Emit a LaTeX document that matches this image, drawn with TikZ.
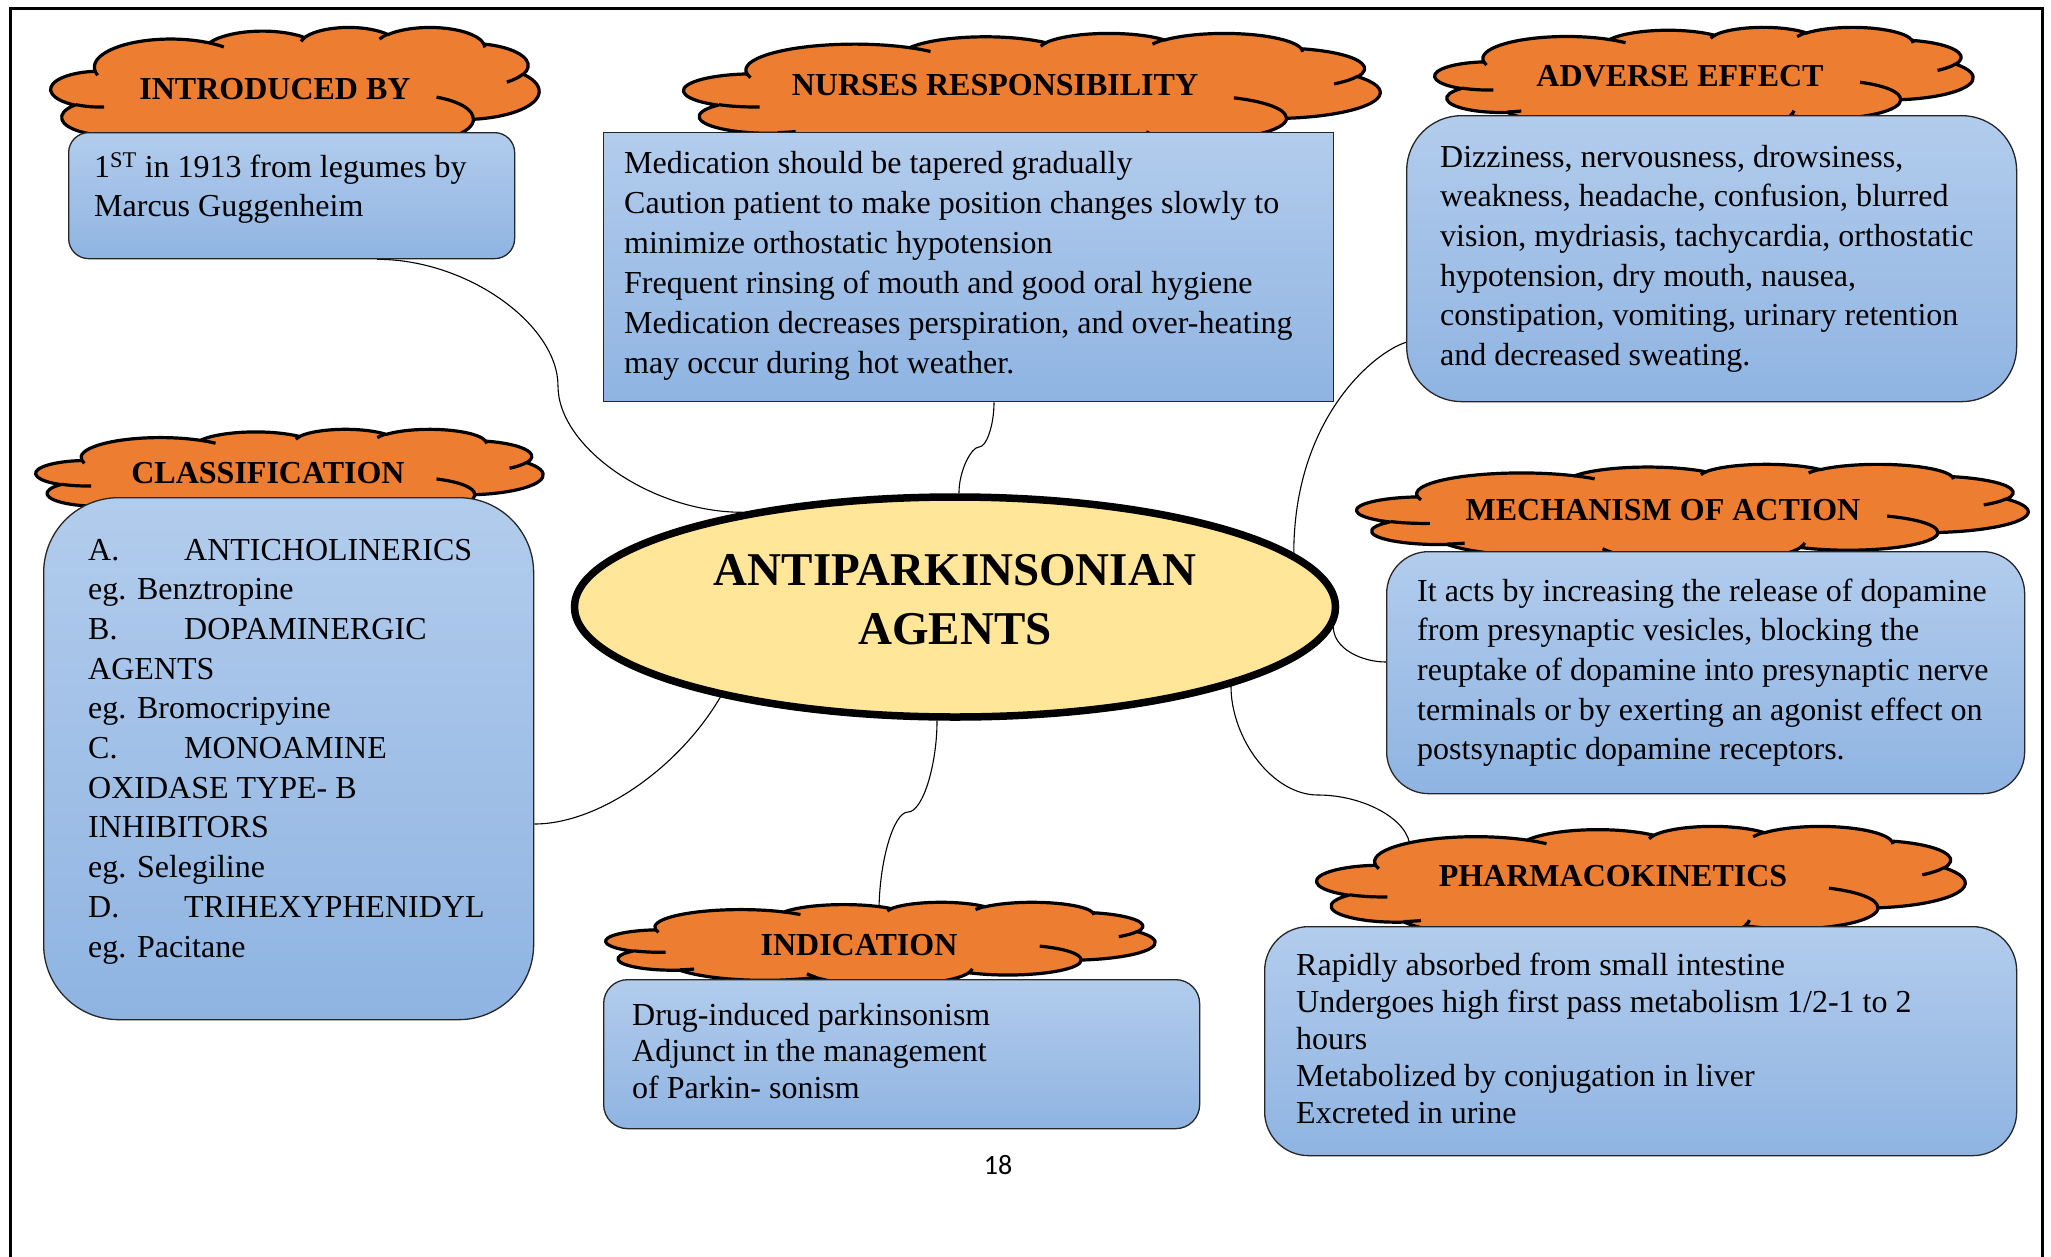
\documentclass[tikz,border=0pt]{standalone}
\usepackage{fontspec}
\setmainfont{Liberation Serif}
\newfontfamily\pagenofont{Carlito}
\usetikzlibrary{shapes.geometric,calc,backgrounds}

\definecolor{cloudorange}{RGB}{237,125,49}
\definecolor{titleyellow}{RGB}{255,230,153}
\definecolor{boxtop}{RGB}{178,204,236}
\definecolor{boxbottom}{RGB}{143,180,226}

% Cloud outline built from elliptical arcs (unit box 100 x 100).
% Each arc is given by its radii and visual start/sweep angles; these are
% turned into the parametric angles used by TikZ's arc operation.
\newcommand\cloudarcdef[5]{%
  \pgfmathsetmacro\cloudtmpa{atan2((#2)*sin(#4),(#3)*cos(#4))}%
  \pgfmathsetmacro\cloudtmpb{atan2((#2)*sin((#4)+(#5)),(#3)*cos((#4)+(#5)))}%
  \pgfmathsetmacro\cloudtmpd{\cloudtmpb-\cloudtmpa}%
  \pgfmathsetmacro\cloudtmpd{ifthenelse(\cloudtmpd<0,\cloudtmpd+360,\cloudtmpd)}%
  \pgfmathsetmacro\cloudtmpe{\cloudtmpa+\cloudtmpd}%
  \expandafter\xdef\csname cls#1\endcsname{\cloudtmpa}%
  \expandafter\xdef\csname cle#1\endcsname{\cloudtmpe}%
}
% outline arcs
\cloudarcdef{A}{15.632}{21.273}{-190.4875}{123.7805}
\cloudarcdef{B}{12.345}{16.822}{-144.1024}{89.9452}
\cloudarcdef{C}{10.104}{13.762}{-145.8079}{99.7230}
\cloudarcdef{D}{11.243}{15.266}{-130.9861}{117.2417}
\cloudarcdef{E}{12.345}{16.836}{-78.7089}{109.0269}
\cloudarcdef{F}{15.683}{21.343}{-46.2673}{130.2690}
\cloudarcdef{G}{13.391}{18.211}{0.6250}{114.0333}
\cloudarcdef{H}{15.630}{21.331}{22.4516}{115.1726}
\cloudarcdef{I}{17.870}{24.405}{66.2426}{75.7110}
\cloudarcdef{J}{10.093}{13.699}{-274.9421}{146.7356}
\cloudarcdef{K}{10.058}{13.762}{-246.8285}{152.5189}
% inner crease arcs
\cloudarcdef{ca}{10.058}{13.762}{86.742}{26.4295}
\cloudarcdef{cb}{10.093}{13.699}{73.6105}{11.4475}
\cloudarcdef{cc}{15.630}{21.331}{137.6242}{14.0811}
\cloudarcdef{cd}{15.630}{21.331}{6.4533}{15.9984}
\cloudarcdef{ce}{13.391}{18.211}{-70.2924}{70.9174}
\cloudarcdef{cf}{12.345}{16.836}{30.3180}{27.7515}
\cloudarcdef{cg}{11.243}{15.266}{-13.7443}{14.8589}
\cloudarcdef{ch}{11.243}{15.266}{-149.1815}{18.1954}
\cloudarcdef{ci}{10.104}{13.762}{-163.4943}{17.6864}
\cloudarcdef{cj}{15.632}{21.273}{-66.7070}{12.3194}
\cloudarcdef{ck}{15.632}{21.273}{157.6544}{11.8582}

\newcommand\cloudoutline{(9.028,33.264)
  arc(\clsA:\cleA:15.632 and 21.273)
  arc(\clsB:\cleB:12.345 and 16.822)
  arc(\clsC:\cleC:10.104 and 13.762)
  arc(\clsD:\cleD:11.243 and 15.266)
  arc(\clsE:\cleE:12.345 and 16.836)
  arc(\clsF:\cleF:15.683 and 21.343)
  arc(\clsG:\cleG:13.391 and 18.211)
  arc(\clsH:\cleH:15.630 and 21.331)
  arc(\clsI:\cleI:17.870 and 24.405)
  arc(\clsJ:\cleJ:10.093 and 13.699)
  arc(\clsK:\cleK:10.058 and 13.762) -- cycle}

\newcommand\cloudcreases{(10.863,60.595) arc(\clsca:\cleca:10.058 and 13.762)
  (16.037,80.785) arc(\clscb:\clecb:10.093 and 13.699)
  (38.144,90.486) arc(\clscc:\clecc:15.630 and 21.331)
  (66.729,80.442) arc(\clscd:\clecd:15.630 and 21.331)
  (79.002,53.134) arc(\clsce:\clece:13.391 and 18.211)
  (96.755,35.542) arc(\clscf:\clecf:12.345 and 16.836)
  (88.713,12.560) arc(\clscg:\clecg:11.243 and 15.266)
  (67.310,9.148) arc(\clsch:\clech:11.243 and 15.266)
  (51.252,10.926) arc(\clsci:\cleci:10.104 and 13.762)
  (32.407,12.019) arc(\clscj:\clecj:15.632 and 21.273)
  (9.553,36.549) arc(\clsck:\cleck:15.632 and 21.273)}

% cloud at top-left corner (#1,#2), size #3 x #4
\newcommand\drawcloud[4]{%
  \begin{scope}[shift={(#1,#2)},xscale=#3/100,yscale=#4/100]
    \filldraw[cloudbody] \cloudoutline;
    \draw[cloudcrease] \cloudcreases;
  \end{scope}}

\newcommand\textlines[1]{\parbox[t]{900pt}{\raggedright #1}}
\newcommand\itemlabel[1]{\makebox[96pt][l]{#1}}

\begin{document}
\begin{tikzpicture}[x=1pt,y=-1pt,
  cloudbody/.style={fill=cloudorange,draw=black,line width=3.2pt,line join=round},
  cloudcrease/.style={draw=black,line width=3.2pt},
  bluebox/.style={draw=black!85,line width=1.3pt,top color=boxtop,bottom color=boxbottom,
    inner sep=0pt,anchor=north west},
  cloudhead/.style={font=\fontsize{32}{38}\selectfont\bfseries,inner sep=0pt},
  boxtext/.style={font=\fontsize{32}{#1}\selectfont,inner sep=0pt,anchor=base west},
  boxtext/.default=39.7,
  linkline/.style={draw=black,line width=1.1pt}]

\useasboundingbox (0,0) rectangle (2051,1256);

% page frame, open at the bottom
\draw[line width=3pt] (10,1262) -- (10,8) -- (2042,8) -- (2042,1262);

% heading clouds
\drawcloud{51}{27}{488}{132}
\drawcloud{684}{33}{696}{122}
\drawcloud{1435}{27}{538}{104}
\drawcloud{36}{429}{507}{94}
\drawcloud{1357}{464}{671}{98}
\drawcloud{606}{902}{549}{83}
\drawcloud{1317}{826}{648}{117}

\node[cloudhead] (introHead) at (275,89) {INTRODUCED BY};
\node[cloudhead] (nursesHead) at (995,85) {NURSES RESPONSIBILITY};
\node[cloudhead] (advHead) at (1680,76) {ADVERSE EFFECT};
\node[cloudhead] (classHead) at (268,473) {CLASSIFICATION};
\node[cloudhead] (mechHead) at (1663,510) {MECHANISM OF ACTION};
\node[cloudhead] (indHead) at (859,945) {INDICATION};
\node[cloudhead] (phHead) at (1613,876) {PHARMACOKINETICS};

\coordinate (indTop) at (879,912);
\coordinate (phTop) at (1410,848);

% text boxes
\node[bluebox,rounded corners=20pt,minimum width=446pt,minimum height=126pt] (introBox) at (68,132) {};
\node[bluebox,minimum width=730pt,minimum height=269pt] (nursesBox) at (603,132) {};
\node[bluebox,rounded corners=55pt,minimum width=610pt,minimum height=286pt] (advBox) at (1406,115) {};
\node[bluebox,rounded corners=75pt,minimum width=490pt,minimum height=522pt] (classBox) at (43,497) {};
\node[bluebox,rounded corners=42pt,minimum width=638pt,minimum height=242pt] (mechBox) at (1386,551) {};
\node[bluebox,rounded corners=24pt,minimum width=596pt,minimum height=149pt] (indBox) at (603,979) {};
\node[bluebox,rounded corners=44pt,minimum width=752pt,minimum height=229pt] (phBox) at (1264,926) {};

\node[boxtext] (introText) at (94,177) {\textlines{1\textsuperscript{ST} in 1913 from legumes by\\
  Marcus Guggenheim}};
\node[boxtext=40] (nursesText) at (624,173) {\textlines{Medication should be tapered gradually\\
  Caution patient to make position changes slowly to\\
  minimize orthostatic hypotension\\
  Frequent rinsing of mouth and good oral hygiene\\
  Medication decreases perspiration, and over-heating\\
  may occur during hot weather.}};
\node[boxtext] (advText) at (1440,167) {\textlines{Dizziness, nervousness, drowsiness,\\
  weakness, headache, confusion, blurred\\
  vision, mydriasis, tachycardia, orthostatic\\
  hypotension, dry mouth, nausea,\\
  constipation, vomiting, urinary retention\\
  and decreased sweating.}};
\node[boxtext] (classText) at (88,560) {\textlines{\itemlabel{A.}ANTICHOLINERICS\\
  eg. Benztropine\\
  \itemlabel{B.}DOPAMINERGIC\\
  AGENTS\\
  eg. Bromocripyine\\
  \itemlabel{C.}MONOAMINE\\
  OXIDASE TYPE- B\\
  INHIBITORS\\
  eg. Selegiline\\
  \itemlabel{D.}TRIHEXYPHENIDYL\\
  eg. Pacitane}};
\node[boxtext] (mechText) at (1417,601) {\textlines{It acts by increasing the release of dopamine\\
  from presynaptic vesicles, blocking the\\
  reuptake of dopamine into presynaptic nerve\\
  terminals or by exerting an agonist effect on\\
  postsynaptic dopamine receptors.}};
\node[boxtext=36.6] (indText) at (632,1025) {\textlines{Drug-induced parkinsonism\\
  Adjunct in the management\\
  of Parkin- sonism}};
\node[boxtext=37] (phText) at (1296,975) {\textlines{Rapidly absorbed from small intestine\\
  Undergoes high first pass metabolism 1/2-1 to 2\\
  hours\\
  Metabolized by conjugation in liver\\
  Excreted in urine}};

% central topic
\node[ellipse,draw=black,line width=7.5pt,fill=titleyellow,minimum width=761pt,
  minimum height=220pt,inner sep=0pt] (centre) at (955,607) {};
\node[font=\fontsize{47}{59}\selectfont\bfseries,align=center,inner sep=0pt] (title)
  at (955,600) {ANTIPARKINSONIAN\\AGENTS};

\node[font=\pagenofont\fontsize{28}{32}\selectfont,inner sep=0pt] (pageno) at (998,1165) {18};

% curved connectors behind everything
\begin{pgfonlayer}{background}
  \draw[linkline] ($(introBox.south west)+(309,0)$) .. controls +(91,0) and +(0,-61) .. (558,386)
    .. controls +(0,61) and +(-91,0) .. (centre.156);
  \draw[linkline] ($(nursesBox.south west)+(391,0)$) .. controls +(0,23) and +(7.5,0) .. (979,447)
    .. controls +(-7.5,0) and +(0,-23) .. (centre.88);
  \draw[linkline] ($(advBox.south west)+(0,-60)$) .. controls +(-34,11) and +(0,-133) .. (centre.9);
  \draw[linkline] (centre.-3) .. controls +(0,22) and +(-24,0) .. ($(mechBox.north west)+(0,111)$);
  \draw[linkline] ($(classBox.north east)+(0,327)$) .. controls +(65,0) and +(-41,70) .. (centre.201);
  \draw[linkline] (centre.-99) .. controls +(0,45) and +(14.5,0) .. (908,812)
    .. controls +(-14.5,0) and +(0,-50) .. (indTop);
  \draw[linkline] (centre.-16) .. controls +(0,52) and +(-46,0) .. (1318,795)
    .. controls +(46,0) and +(0,-28) .. (phTop);
\end{pgfonlayer}
\end{tikzpicture}
\end{document}
